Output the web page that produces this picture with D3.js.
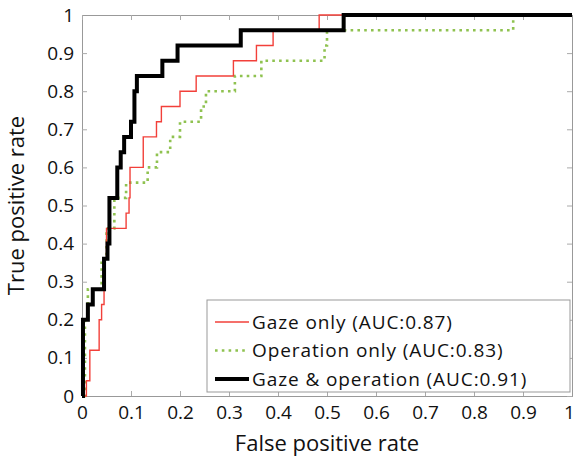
<!DOCTYPE html>
<html>
<head>
<meta charset="utf-8">
<script src="https://cdn.jsdelivr.net/npm/d3@7"></script>
<style>
  body { margin: 0; background: #fff; }
  text { font-family: "Open Sans", "DejaVu Sans", sans-serif; fill: #111; }
</style>
</head>
<body>
<div id="chart"></div>
<script>
// ROC corner points (fpr, tpr)
var gazeFpr = [0.006, 0.009, 0.016, 0.035, 0.040, 0.045, 0.050, 0.090, 0.096, 0.098, 0.125, 0.152, 0.162, 0.200, 0.233, 0.309, 0.356, 0.390, 0.484, 1.0]
var gazeTpr = [0.00, 0.04, 0.12, 0.20, 0.24, 0.36, 0.44, 0.48, 0.52, 0.60, 0.68, 0.72, 0.76, 0.80, 0.84, 0.88, 0.92, 0.96, 1.00, 1.0]

var opFpr = [0.004, 0.006, 0.012, 0.040, 0.050, 0.066, 0.090, 0.134, 0.153, 0.180, 0.200, 0.243, 0.253, 0.312, 0.366, 0.495, 0.500, 0.880, 1.0]
var opTpr = [0.00, 0.20, 0.28, 0.36, 0.44, 0.52, 0.56, 0.60, 0.64, 0.68, 0.72, 0.76, 0.80, 0.84, 0.88, 0.92, 0.96, 1.00, 1.0]

var bothFpr = [0.000, 0.002, 0.012, 0.022, 0.045, 0.052, 0.056, 0.072, 0.079, 0.086, 0.100, 0.107, 0.112, 0.164, 0.195, 0.324, 0.534, 1.0]
var bothTpr = [0.00, 0.20, 0.24, 0.28, 0.36, 0.40, 0.52, 0.60, 0.64, 0.68, 0.72, 0.80, 0.84, 0.88, 0.92, 0.96, 1.00, 1.0]

var ticks = [0, 0.1, 0.2, 0.3, 0.4, 0.5, 0.6, 0.7, 0.8, 0.9, 1]
var labels = ["Gaze only (AUC:0.87)", "Operation only (AUC:0.83)", "Gaze & operation (AUC:0.91)"]

var margin = {top: 15, right: 3, bottom: 64, left: 82},
    width = 575 - margin.left - margin.right,
    height = 460 - margin.top - margin.bottom;

var svg = d3.select("#chart")
  .append("svg")
    .attr("width", 575)
    .attr("height", 460)
  .append("g")
    .attr("transform", "translate(" + margin.left + "," + margin.top + ")");

var x = d3.scaleLinear().domain([0, 1]).range([0, width]);
var y = d3.scaleLinear().domain([0, 1]).range([height, 0]);

var fmt = function(d) { return d === 0 || d === 1 ? String(d) : d3.format(".1f")(d); };

// axes, ticks pointing inward like matlab
var xAxis = svg.append("g")
  .attr("transform", "translate(0," + height + ")")
  .call(d3.axisBottom(x).tickValues(ticks).tickFormat(fmt).tickSize(-5).tickPadding(10));
svg.append("g")
  .call(d3.axisLeft(y).tickValues(ticks).tickFormat(fmt).tickSize(-5).tickPadding(8));
svg.append("g")
  .call(d3.axisTop(x).tickValues(ticks).tickFormat("").tickSize(-5));
svg.append("g")
  .attr("transform", "translate(" + width + ",0)")
  .call(d3.axisRight(y).tickValues(ticks).tickFormat("").tickSize(-5));

svg.selectAll(".domain").attr("stroke", "#999");
svg.selectAll(".tick line").attr("stroke", "#aaa");
svg.selectAll(".tick text")
  .style("font-size", "19px")
  .style("fill", "#111");

// last x label sits on the window edge, keep it inside
xAxis.selectAll(".tick text")
  .filter(function(d) { return d === 1; })
  .attr("dx", "-3");

// curves
var line = d3.line()
  .x(function(d) { return x(d[0]); })
  .y(function(d) { return y(d[1]); })
  .curve(d3.curveStepAfter);

var series = [
  {fpr: opFpr, tpr: opTpr, color: "#8fc250", w: 2.6, dash: "2.6,4.2"},
  {fpr: gazeFpr, tpr: gazeTpr, color: "#f2403a", w: 1.4, dash: null},
  {fpr: bothFpr, tpr: bothTpr, color: "#000", w: 4, dash: null}
];

series.forEach(function(s) {
  var pts = s.fpr.map(function(f, i) { return [f, s.tpr[i]]; });
  svg.append("path")
    .datum(pts)
    .attr("fill", "none")
    .attr("stroke", s.color)
    .attr("stroke-width", s.w)
    .attr("stroke-dasharray", s.dash)
    .attr("d", line);
});

// Legend box
var legend = svg.append("g")
  .attr("transform", "translate(" + (207 - margin.left) + "," + (300 - margin.top) + ")");
legend.append("rect")
  .attr("width", 363)
  .attr("height", 92)
  .attr("fill", "#fff")
  .attr("stroke", "#999")
  .attr("stroke-width", 1);

var legItems = [series[1], series[0], series[2]];
legItems.forEach(function(s, i) {
  var yy = 22 + i * 28.5;
  legend.append("line")
    .attr("x1", 8).attr("x2", 42)
    .attr("y1", yy).attr("y2", yy)
    .attr("stroke", s.color)
    .attr("stroke-width", s.w)
    .attr("stroke-dasharray", s.dash);
  legend.append("text")
    .attr("x", 45)
    .attr("y", yy)
    .attr("dy", "0.35em")
    .style("font-size", "19px")
    .style("letter-spacing", "0.9px")
    .text(labels[i]);
});

// axis titles
svg.append("text")
  .attr("text-anchor", "middle")
  .attr("x", width / 2)
  .attr("y", height + 55)
  .style("font-size", "22px")
  .text("False positive rate");

svg.append("text")
  .attr("text-anchor", "middle")
  .attr("transform", "rotate(-90)")
  .attr("x", -height / 2)
  .attr("y", -58)
  .style("font-size", "22px")
  .text("True positive rate");
</script>
</body>
</html>
